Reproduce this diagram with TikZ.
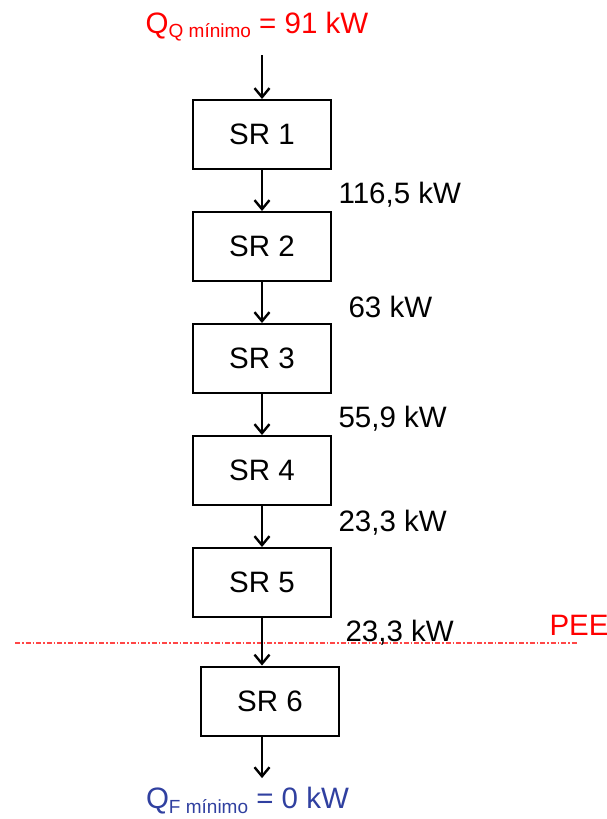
\documentclass[tikz,border=0pt]{standalone}
\usepackage{fontspec}
\setmainfont{Liberation Sans}
\usetikzlibrary{positioning, arrows.meta}
\definecolor{qred}{RGB}{255,0,0}
\definecolor{qblue}{RGB}{48,64,160}
\definecolor{peered}{RGB}{255,70,70}
\newcommand{\qmin}[2]{#1\raisebox{-5pt}{\fontsize{19}{19}\selectfont #2}}
\tikzset{
x=1pt, y=1pt, % one unit is one pixel of the sketch
node distance=112pt, % vertical step between two units
every node/.style={font=\fontsize{29.5}{33}\selectfont},
unit/.style={draw, line width=2pt, minimum width=138pt, minimum height=69pt}, % the SR boxes
flow/.style={->, line width=2.4pt}, % heat flowing down
power/.style={anchor=west, xshift=72pt, yshift=-4.5pt}, % text beside a flow
>={Straight Barb[length=9pt,width=15pt]},
}

\begin{document}
\begin{tikzpicture}
    \useasboundingbox (0,0) rectangle (607,-819);
    \node[unit] (sr1) at (262,-134.5) {SR 1};
    \node[unit, below of=sr1] (sr2) {SR 2};
    \node[unit, below of=sr2] (sr3) {SR 3};
    \node[unit, below of=sr3] (sr4) {SR 4};
    \node[unit, below of=sr4] (sr5) {SR 5};
    \node[unit, below of=sr5, xshift=8pt, yshift=-6.5pt] (sr6) {SR 6};
    \node[qred, anchor=base] (qq) at (257,-33) {\qmin{Q}{Q mínimo} = 91 kW};
    \node[qblue, anchor=base] (qf) at (247.5,-808) {\qmin{Q}{F mínimo} = 0 kW};
    \node[qred, anchor=west] (pee) at (546,-625) {PEE};
    % pinch line
    \coordinate (peeL) at (15,-643);
    \coordinate (peeR) at (577,-643);
    \draw[peered, line width=1.2pt, dash pattern=on 5pt off 2pt on 1.5pt off 2pt] (peeL) -- (peeR);
    \draw[flow, shorten <=10pt] (qq.south -| sr1.north) -- (sr1.north);
    \draw[flow] (sr1) -- node[power] (p12) {116,5 kW} (sr2);
    \draw[flow] (sr2) -- node[power, xshift=10pt] (p23) {63 kW} (sr3);
    \draw[flow] (sr3) -- node[power] (p34) {55,9 kW} (sr4);
    \draw[flow] (sr4) -- node[power, yshift=8pt] (p45) {23,3 kW} (sr5);
    \draw[flow] (sr5) -- node[power, xshift=7pt, yshift=14pt] (p56) {23,3 kW} (sr5.south |- sr6.north);
    \draw[flow, shorten >=5pt] (sr6.south -| sr5.south) -- (qf.north -| sr5.south);
\end{tikzpicture}
\end{document}
